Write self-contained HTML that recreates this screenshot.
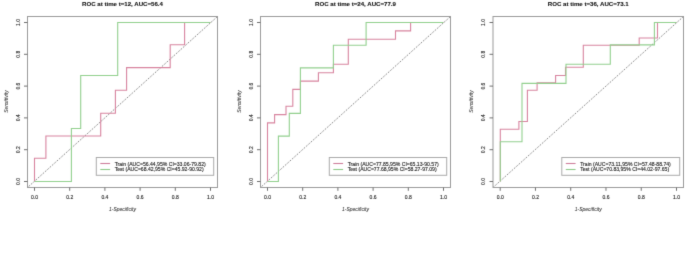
<!DOCTYPE html>
<html><head><meta charset="utf-8"><style>
html,body{margin:0;padding:0;background:#fff;}
body{width:685px;height:253px;overflow:hidden;}
svg{display:block;}
#w{width:685px;height:253px;will-change:transform;}
text{font-family:"Liberation Sans",sans-serif;fill:#222;stroke:#222;stroke-width:0.12px;}
.t{font-weight:bold;font-size:6.12px;fill:#111;stroke:#111;stroke-width:0.1px;}
.s{font-size:5px;}
.l{font-size:5.1px;}
.a{font-size:5px;font-style:italic;fill:#333;stroke-width:0.04px;}
</style></head><body>
<div id="w"><svg width="685" height="253" viewBox="0 0 685 253">
<defs><filter id="f" x="0" y="0" width="685" height="253" filterUnits="userSpaceOnUse" color-interpolation-filters="sRGB"><feConvolveMatrix order="3" kernelMatrix="0.0169 0.1300 0.0169 0.1300 1.0000 0.1300 0.0169 0.1300 0.0169" edgeMode="duplicate"/></filter></defs>
<g filter="url(#f)">
<rect width="685" height="253" fill="#fff"/>
<g>
<line x1="27.50" y1="187.50" x2="217.50" y2="16.50" stroke="#555" stroke-width="0.85" stroke-dasharray="1.1,1.25"/>
<path d="M34.5,181.5 V158.3 H45.9 V136 H100.7 V113.2 H115.4 V90.3 H126.6 V67.6 H170.2 V44.8 H184.6 V22.5 H210.5" fill="none" stroke="#d8849f" stroke-width="1.10"/>
<path d="M34.5,181.5 H71.4 V128.5 H80.7 V75.5 H117.7 V22.5 H210.5" fill="none" stroke="#92d08e" stroke-width="1.10"/>
<rect x="27.50" y="16.50" width="190.00" height="171.00" fill="none" stroke="#9a9a9a" stroke-width="1"/>
<line x1="24.00" y1="181.50" x2="27.50" y2="181.50" stroke="#707070" stroke-width="1"/>
<line x1="34.50" y1="187.50" x2="34.50" y2="190.80" stroke="#707070" stroke-width="1"/>
<text class="s" x="34.50" y="198.70" text-anchor="middle">0.0</text>
<text class="s" transform="translate(19.70,181.50) rotate(-90)" text-anchor="middle">0.0</text>
<line x1="24.00" y1="149.70" x2="27.50" y2="149.70" stroke="#707070" stroke-width="1"/>
<line x1="69.70" y1="187.50" x2="69.70" y2="190.80" stroke="#707070" stroke-width="1"/>
<text class="s" x="69.70" y="198.70" text-anchor="middle">0.2</text>
<text class="s" transform="translate(19.70,149.70) rotate(-90)" text-anchor="middle">0.2</text>
<line x1="24.00" y1="117.90" x2="27.50" y2="117.90" stroke="#707070" stroke-width="1"/>
<line x1="104.90" y1="187.50" x2="104.90" y2="190.80" stroke="#707070" stroke-width="1"/>
<text class="s" x="104.90" y="198.70" text-anchor="middle">0.4</text>
<text class="s" transform="translate(19.70,117.90) rotate(-90)" text-anchor="middle">0.4</text>
<line x1="24.00" y1="86.10" x2="27.50" y2="86.10" stroke="#707070" stroke-width="1"/>
<line x1="140.10" y1="187.50" x2="140.10" y2="190.80" stroke="#707070" stroke-width="1"/>
<text class="s" x="140.10" y="198.70" text-anchor="middle">0.6</text>
<text class="s" transform="translate(19.70,86.10) rotate(-90)" text-anchor="middle">0.6</text>
<line x1="24.00" y1="54.30" x2="27.50" y2="54.30" stroke="#707070" stroke-width="1"/>
<line x1="175.30" y1="187.50" x2="175.30" y2="190.80" stroke="#707070" stroke-width="1"/>
<text class="s" x="175.30" y="198.70" text-anchor="middle">0.8</text>
<text class="s" transform="translate(19.70,54.30) rotate(-90)" text-anchor="middle">0.8</text>
<line x1="24.00" y1="22.50" x2="27.50" y2="22.50" stroke="#707070" stroke-width="1"/>
<line x1="210.50" y1="187.50" x2="210.50" y2="190.80" stroke="#707070" stroke-width="1"/>
<text class="s" x="210.50" y="198.70" text-anchor="middle">1.0</text>
<text class="s" transform="translate(19.70,22.50) rotate(-90)" text-anchor="middle">1.0</text>
<text class="a" x="122.50" y="210.50" text-anchor="middle">1-Specificity</text>
<text class="a" transform="translate(7.70,101.60) rotate(-90)" text-anchor="middle">Sensitivity</text>
<text class="t" x="122.50" y="5.80" text-anchor="middle">ROC at time t=12, AUC=56.4</text>
<rect x="96.30" y="157.5" width="117.40" height="17.8" fill="#fff" stroke="#aaa" stroke-width="1"/>
<line x1="100.30" y1="163.5" x2="110.10" y2="163.5" stroke="#cf7f9c" stroke-width="1.1"/>
<line x1="100.30" y1="169.5" x2="110.10" y2="169.5" stroke="#8fca8a" stroke-width="1.1"/>
<text class="l" x="114.70" y="165.6">Train (AUC=56.44,95% CI=33.06-79.82)</text>
<text class="l" x="114.70" y="171.4">Test (AUC=68.42,95% CI=45.92-90.92)</text>
</g>
<g>
<line x1="260.50" y1="187.50" x2="450.50" y2="16.50" stroke="#555" stroke-width="0.85" stroke-dasharray="1.1,1.25"/>
<path d="M267.5,181.5 V122.9 H274.6 V114.6 H286 V106.2 H292.8 V89.4 H300.4 V81.1 H318.4 V72.7 H333.4 V64.3 H348.3 V39.2 H395.5 V30.9 H410.6 V22.5 H443.5" fill="none" stroke="#d8849f" stroke-width="1.10"/>
<path d="M267.5,181.5 H278.4 V136.1 H289.3 V113.4 H300.4 V67.9 H333.4 V45.2 H366.1 V22.5 H443.5" fill="none" stroke="#92d08e" stroke-width="1.10"/>
<rect x="260.50" y="16.50" width="190.00" height="171.00" fill="none" stroke="#9a9a9a" stroke-width="1"/>
<line x1="257.00" y1="181.50" x2="260.50" y2="181.50" stroke="#707070" stroke-width="1"/>
<line x1="267.50" y1="187.50" x2="267.50" y2="190.80" stroke="#707070" stroke-width="1"/>
<text class="s" x="267.50" y="198.70" text-anchor="middle">0.0</text>
<text class="s" transform="translate(252.70,181.50) rotate(-90)" text-anchor="middle">0.0</text>
<line x1="257.00" y1="149.70" x2="260.50" y2="149.70" stroke="#707070" stroke-width="1"/>
<line x1="302.70" y1="187.50" x2="302.70" y2="190.80" stroke="#707070" stroke-width="1"/>
<text class="s" x="302.70" y="198.70" text-anchor="middle">0.2</text>
<text class="s" transform="translate(252.70,149.70) rotate(-90)" text-anchor="middle">0.2</text>
<line x1="257.00" y1="117.90" x2="260.50" y2="117.90" stroke="#707070" stroke-width="1"/>
<line x1="337.90" y1="187.50" x2="337.90" y2="190.80" stroke="#707070" stroke-width="1"/>
<text class="s" x="337.90" y="198.70" text-anchor="middle">0.4</text>
<text class="s" transform="translate(252.70,117.90) rotate(-90)" text-anchor="middle">0.4</text>
<line x1="257.00" y1="86.10" x2="260.50" y2="86.10" stroke="#707070" stroke-width="1"/>
<line x1="373.10" y1="187.50" x2="373.10" y2="190.80" stroke="#707070" stroke-width="1"/>
<text class="s" x="373.10" y="198.70" text-anchor="middle">0.6</text>
<text class="s" transform="translate(252.70,86.10) rotate(-90)" text-anchor="middle">0.6</text>
<line x1="257.00" y1="54.30" x2="260.50" y2="54.30" stroke="#707070" stroke-width="1"/>
<line x1="408.30" y1="187.50" x2="408.30" y2="190.80" stroke="#707070" stroke-width="1"/>
<text class="s" x="408.30" y="198.70" text-anchor="middle">0.8</text>
<text class="s" transform="translate(252.70,54.30) rotate(-90)" text-anchor="middle">0.8</text>
<line x1="257.00" y1="22.50" x2="260.50" y2="22.50" stroke="#707070" stroke-width="1"/>
<line x1="443.50" y1="187.50" x2="443.50" y2="190.80" stroke="#707070" stroke-width="1"/>
<text class="s" x="443.50" y="198.70" text-anchor="middle">1.0</text>
<text class="s" transform="translate(252.70,22.50) rotate(-90)" text-anchor="middle">1.0</text>
<text class="a" x="355.50" y="210.50" text-anchor="middle">1-Specificity</text>
<text class="a" transform="translate(240.70,101.60) rotate(-90)" text-anchor="middle">Sensitivity</text>
<text class="t" x="355.50" y="5.80" text-anchor="middle">ROC at time t=24, AUC=77.9</text>
<rect x="329.30" y="157.5" width="117.40" height="17.8" fill="#fff" stroke="#aaa" stroke-width="1"/>
<line x1="333.30" y1="163.5" x2="343.10" y2="163.5" stroke="#cf7f9c" stroke-width="1.1"/>
<line x1="333.30" y1="169.5" x2="343.10" y2="169.5" stroke="#8fca8a" stroke-width="1.1"/>
<text class="l" x="347.70" y="165.6">Train (AUC=77.85,95% CI=65.13-90.57)</text>
<text class="l" x="347.70" y="171.4">Test (AUC=77.68,95% CI=58.27-97.09)</text>
</g>
<g>
<line x1="493.00" y1="187.50" x2="683.50" y2="16.50" stroke="#555" stroke-width="0.85" stroke-dasharray="1.1,1.25"/>
<path d="M500.3,181.5 V129.3 H518.9 V121.5 H527.4 V90.3 H537.1 V82.7 H555.6 V75.5 H565.5 V67.3 H583.3 V45.2 H639.2 V38 H657.5 V22.5 H676.5" fill="none" stroke="#d8849f" stroke-width="1.10"/>
<path d="M500.3,181.5 V141.8 H522 V83.4 H566 V64.2 H610.3 V44.9 H654.4 V22.5 H676.5" fill="none" stroke="#92d08e" stroke-width="1.10"/>
<rect x="493.00" y="16.50" width="190.50" height="171.00" fill="none" stroke="#9a9a9a" stroke-width="1"/>
<line x1="489.50" y1="181.50" x2="493.00" y2="181.50" stroke="#707070" stroke-width="1"/>
<line x1="500.20" y1="187.50" x2="500.20" y2="190.80" stroke="#707070" stroke-width="1"/>
<text class="s" x="500.20" y="198.70" text-anchor="middle">0.0</text>
<text class="s" transform="translate(485.20,181.50) rotate(-90)" text-anchor="middle">0.0</text>
<line x1="489.50" y1="149.70" x2="493.00" y2="149.70" stroke="#707070" stroke-width="1"/>
<line x1="535.46" y1="187.50" x2="535.46" y2="190.80" stroke="#707070" stroke-width="1"/>
<text class="s" x="535.46" y="198.70" text-anchor="middle">0.2</text>
<text class="s" transform="translate(485.20,149.70) rotate(-90)" text-anchor="middle">0.2</text>
<line x1="489.50" y1="117.90" x2="493.00" y2="117.90" stroke="#707070" stroke-width="1"/>
<line x1="570.72" y1="187.50" x2="570.72" y2="190.80" stroke="#707070" stroke-width="1"/>
<text class="s" x="570.72" y="198.70" text-anchor="middle">0.4</text>
<text class="s" transform="translate(485.20,117.90) rotate(-90)" text-anchor="middle">0.4</text>
<line x1="489.50" y1="86.10" x2="493.00" y2="86.10" stroke="#707070" stroke-width="1"/>
<line x1="605.98" y1="187.50" x2="605.98" y2="190.80" stroke="#707070" stroke-width="1"/>
<text class="s" x="605.98" y="198.70" text-anchor="middle">0.6</text>
<text class="s" transform="translate(485.20,86.10) rotate(-90)" text-anchor="middle">0.6</text>
<line x1="489.50" y1="54.30" x2="493.00" y2="54.30" stroke="#707070" stroke-width="1"/>
<line x1="641.24" y1="187.50" x2="641.24" y2="190.80" stroke="#707070" stroke-width="1"/>
<text class="s" x="641.24" y="198.70" text-anchor="middle">0.8</text>
<text class="s" transform="translate(485.20,54.30) rotate(-90)" text-anchor="middle">0.8</text>
<line x1="489.50" y1="22.50" x2="493.00" y2="22.50" stroke="#707070" stroke-width="1"/>
<line x1="676.50" y1="187.50" x2="676.50" y2="190.80" stroke="#707070" stroke-width="1"/>
<text class="s" x="676.50" y="198.70" text-anchor="middle">1.0</text>
<text class="s" transform="translate(485.20,22.50) rotate(-90)" text-anchor="middle">1.0</text>
<text class="a" x="588.25" y="210.50" text-anchor="middle">1-Specificity</text>
<text class="a" transform="translate(473.20,101.60) rotate(-90)" text-anchor="middle">Sensitivity</text>
<text class="t" x="588.25" y="5.80" text-anchor="middle">ROC at time t=36, AUC=73.1</text>
<rect x="561.80" y="157.5" width="117.90" height="17.8" fill="#fff" stroke="#aaa" stroke-width="1"/>
<line x1="565.80" y1="163.5" x2="575.60" y2="163.5" stroke="#cf7f9c" stroke-width="1.1"/>
<line x1="565.80" y1="169.5" x2="575.60" y2="169.5" stroke="#8fca8a" stroke-width="1.1"/>
<text class="l" x="580.20" y="165.6">Train (AUC=73.11,95% CI=57.48-88.74)</text>
<text class="l" x="580.20" y="171.4">Test (AUC=70.83,95% CI=44.02-97.65)</text>
</g>
</g></svg></div>
</body></html>
